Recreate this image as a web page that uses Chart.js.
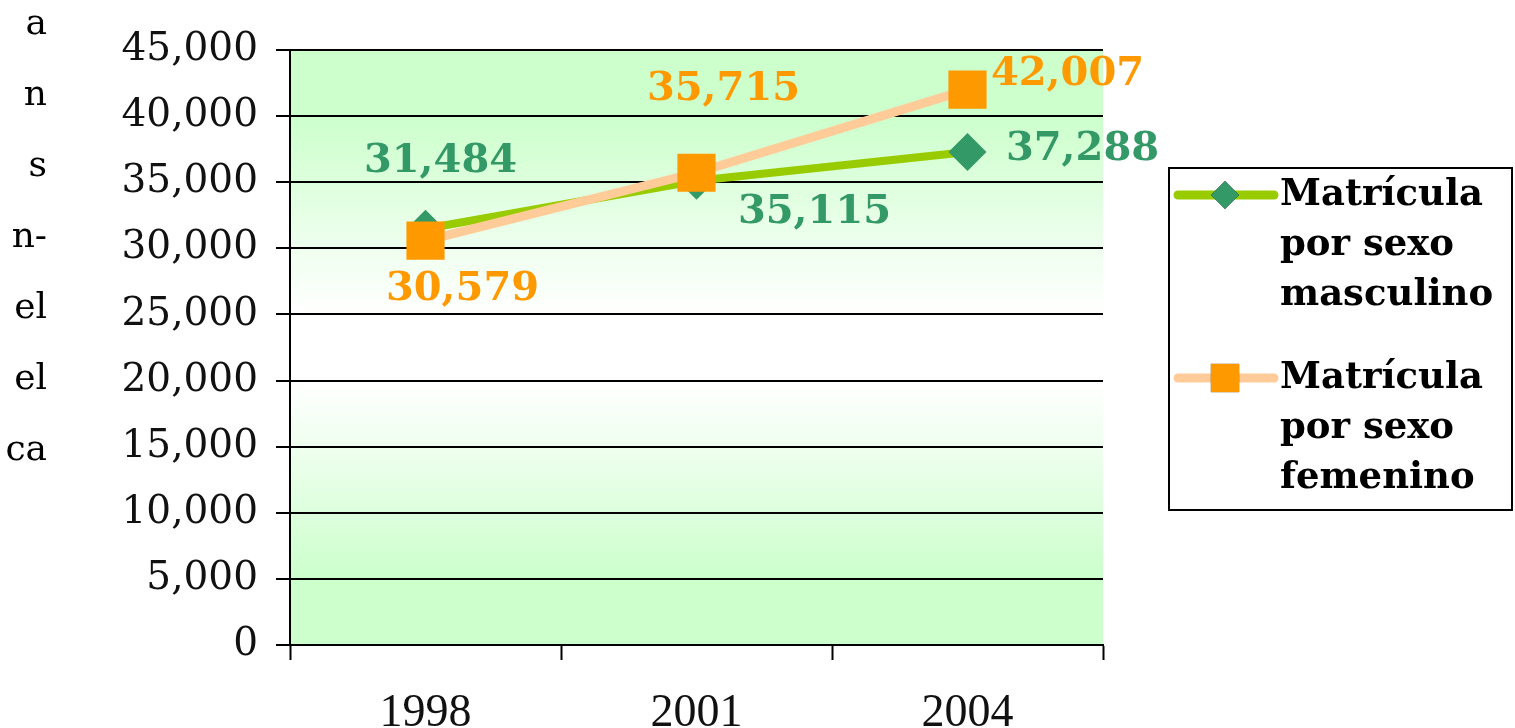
<!DOCTYPE html>
<html>
<head>
<meta charset="utf-8">
<script src="https://cdn.jsdelivr.net/npm/chart.js@4/dist/chart.umd.min.js"></script>
<style>
  html, body { margin: 0; padding: 0; background: #fff; }
  #wrap { width: 1515px; height: 728px; }
</style>
</head>
<body>
<div id="wrap"><canvas id="LineGraph" width="1515" height="728"></canvas></div>
<script>
// Data
var years = ['1998', '2001', '2004'];
var masculino = [31484, 35115, 37288];
var femenino = [30579, 35715, 42007];
var seriesNames = ['Matrícula por sexo masculino', 'Matrícula por sexo femenino'];
var legendLines = [['Matrícula', 'por sexo', 'masculino'], ['Matrícula', 'por sexo', 'femenino']];
var sideText = ['a', 'n', 's', 'n-', 'el', 'el', 'ca'];

var ctx = document.getElementById('LineGraph').getContext('2d');

// green - white - green background of the plot area
var plotBackground = {
    id: 'plotBackground',
    beforeDraw: function(chart) {
        var a = chart.chartArea;
        var c = chart.ctx;
        var g = c.createLinearGradient(0, a.top, 0, a.bottom);
        g.addColorStop(0, '#CCFFCC');
        g.addColorStop(0.11, '#CCFFCC');
        g.addColorStop(0.44, '#FFFFFF');
        g.addColorStop(0.56, '#FFFFFF');
        g.addColorStop(0.89, '#CCFFCC');
        g.addColorStop(1, '#CCFFCC');
        c.save();
        c.fillStyle = g;
        c.fillRect(a.left, a.top, a.right - a.left, a.bottom - a.top);
        c.restore();
    }
};

// value labels next to the points
var valueLabels = {
    id: 'valueLabels',
    afterDatasetsDraw: function(chart) {
        var offsets = {
            0: [[37, 49], [27, -83], [100, -15]],   // femenino
            1: [[15, -67], [118, 32], [115, -2]]    // masculino
        };
        var c = chart.ctx;
        c.save();
        c.font = 'bold 40px "DejaVu Serif"';
        c.textAlign = 'center';
        c.textBaseline = 'middle';
        chart.data.datasets.forEach(function(ds, i) {
            var meta = chart.getDatasetMeta(i);
            c.fillStyle = ds.labelColor;
            meta.data.forEach(function(pt, j) {
                var v = ds.data[j].toLocaleString('en-US');
                c.fillText(v, pt.x + offsets[i][j][0], pt.y + offsets[i][j][1]);
            });
        });
        c.restore();
    }
};

// boxed legend on the right with wrapped text
var sideLegend = {
    id: 'sideLegend',
    afterDraw: function(chart) {
        var c = chart.ctx;
        c.save();
        c.strokeStyle = '#000';
        c.lineWidth = 2;
        c.strokeRect(1169, 168, 343, 342);

        var order = [1, 0]; // masculino first, femenino second
        order.forEach(function(dsIndex, k) {
            var ds = chart.data.datasets[dsIndex];
            var y0 = k === 0 ? 195 : 378;
            c.strokeStyle = ds.borderColor;
            c.lineWidth = 9;
            c.lineCap = 'round';
            c.beginPath();
            c.moveTo(1178, y0);
            c.lineTo(1274, y0);
            c.stroke();
            Chart.helpers.drawPoint(c, {
                pointStyle: ds.pointStyle,
                radius: ds.pointStyle === 'rectRot' ? 14 : 20,
                borderWidth: 0
            }, 1225, y0);
            c.fillStyle = ds.pointBackgroundColor;
            c.fill();

            c.fillStyle = '#000';
            c.font = 'bold 37px "DejaVu Serif"';
            c.textAlign = 'left';
            c.textBaseline = 'middle';
            var lines = legendLines[k];
            lines.forEach(function(t, n) {
                c.fillText(t, 1280, y0 + n * 50);
            });
        });

        // clipped text at the left edge of the page
        c.fillStyle = '#000';
        c.font = '36px "DejaVu Serif"';
        c.textAlign = 'right';
        c.textBaseline = 'middle';
        sideText.forEach(function(t, n) {
            c.fillText(t, 47, 25 + n * 71);
        });
        c.restore();
    }
};

var chart = new Chart(ctx, {
    type: 'line',
    data: {
        labels: years,
        datasets: [
            {
                label: seriesNames[1],
                data: femenino,
                borderColor: '#FFCC99',
                borderWidth: 9,
                pointStyle: 'rect',
                pointRadius: 27,
                pointHoverRadius: 27,
                pointBackgroundColor: '#FF9900',
                pointBorderWidth: 0,
                labelColor: '#FF9900',
                tension: 0,
                order: 0
            },
            {
                label: seriesNames[0],
                data: masculino,
                borderColor: '#99CC00',
                borderWidth: 8,
                pointStyle: 'rectRot',
                pointRadius: 19,
                pointHoverRadius: 19,
                pointBackgroundColor: '#339966',
                pointBorderWidth: 0,
                labelColor: '#339966',
                tension: 0,
                order: 1
            }
        ]
    },
    options: {
        responsive: false,
        animation: false,
        events: [],
        layout: {
            padding: { left: 0, top: 50, right: 412, bottom: 0 }
        },
        scales: {
            x: {
                offset: true,
                grid: {
                    offset: true,
                    drawOnChartArea: false,
                    drawTicks: true,
                    tickLength: 15,
                    tickColor: '#000',
                    tickWidth: 2
                },
                border: { color: '#000', width: 2 },
                ticks: {
                    color: '#111',
                    padding: 26,
                    font: { family: '"Liberation Serif"', size: 46 }
                },
                afterFit: function(scale) { scale.height = 83; }
            },
            y: {
                min: 0,
                max: 45000,
                ticks: {
                    stepSize: 5000,
                    color: '#111',
                    padding: 18,
                    font: { family: '"DejaVu Serif"', size: 39 },
                    callback: function(v) { return v.toLocaleString('en-US'); }
                },
                grid: {
                    color: '#000',
                    lineWidth: 2,
                    tickLength: 14,
                    tickColor: '#000'
                },
                border: { color: '#000', width: 2 },
                afterFit: function(scale) { scale.width = 290; }
            }
        },
        plugins: {
            legend: { display: false },
            tooltip: { enabled: false }
        }
    },
    plugins: [plotBackground, valueLabels, sideLegend]
});
</script>
</body>
</html>
